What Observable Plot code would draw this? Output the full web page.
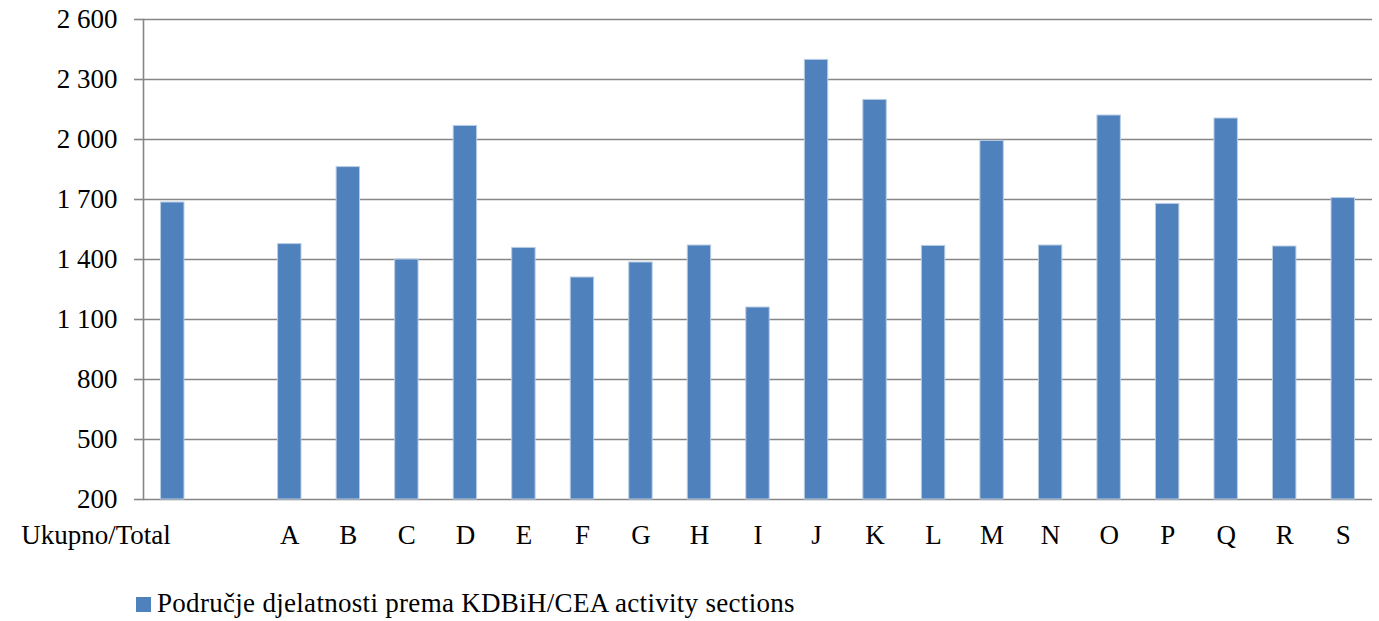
<!DOCTYPE html>
<html>
<head>
<meta charset="utf-8">
<script src="https://cdn.jsdelivr.net/npm/d3@7"></script>
<script src="https://cdn.jsdelivr.net/npm/@observablehq/plot@0.6"></script>
<style>
  body { margin: 0; background: #fff; font-family: "Liberation Serif", serif; }
  #legend { position: relative; height: 61px; }
  #legend .sw { position: absolute; left: 136px; top: 37px; width: 15px; height: 15px; background: #4F81BD; }
  #legend .tx { position: absolute; left: 157px; top: 28px; font-size: 27px; letter-spacing: 0.3px; line-height: 30px; color: #000; white-space: nowrap; }
</style>
</head>
<body>
<div id="chart"></div>
<div id="legend"><span class="sw"></span><span class="tx">Područje djelatnosti prema KDBiH/CEA activity sections</span></div>
<script>
const categories = ["Ukupno/Total", "", "A", "B", "C", "D", "E", "F", "G", "H", "I", "J", "K", "L", "M", "N", "O", "P", "Q", "R", "S"];
const barCategories = ["Ukupno/Total", "A", "B", "C", "D", "E", "F", "G", "H", "I", "J", "K", "L", "M", "N", "O", "P", "Q", "R", "S"];
const values = [1685, 1477, 1862, 1400, 2068, 1458, 1310, 1385, 1470, 1160, 2398, 2198, 1468, 1993, 1470, 2120, 1678, 2105, 1465, 1707];
const yTicks = [200, 500, 800, 1100, 1400, 1700, 2000, 2300, 2600];
const legendLabel = "Područje djelatnosti prema KDBiH/CEA activity sections";

const data = barCategories.map((c, i) => ({cat: c, v: values[i]}));
const fmt = d => d3.format(",")(d).replace(/,/g, "\u00a0");

const chart = Plot.plot({
  width: 1379,
  height: 560,
  marginTop: 19,
  marginBottom: 61,
  marginLeft: 143,
  marginRight: 7,
  style: {fontFamily: "Liberation Serif, serif", fontSize: "27px", color: "#000", background: "#fff"},
  x: {domain: categories, paddingInner: 0.6, paddingOuter: 0.3, round: false, axis: null, label: null},
  y: {domain: [200, 2600], axis: null, label: null},
  marks: [
    Plot.ruleY(yTicks, {stroke: "#868686", strokeWidth: 1.6}),
    Plot.frame({anchor: "left", stroke: "#868686", strokeWidth: 1.6}),
    Plot.barY(data, {x: "cat", y1: 200, y2: "v", fill: "#4F81BD", stroke: "#B9CDE5", strokeWidth: 1}),
    Plot.axisY({ticks: yTicks, tickFormat: fmt, tickSize: 9, tickPadding: 17, stroke: "#868686", strokeWidth: 1.6, fontSize: 27, fill: "#000", label: null}),
    Plot.axisX({ticks: categories.filter(c => c !== "" && c !== "Ukupno/Total"), tickSize: 0, tickPadding: 25, fontSize: 27, fill: "#000", label: null}),
    Plot.axisX({ticks: ["Ukupno/Total"], tickSize: 0, tickPadding: 25, fontSize: 27, fill: "#000", textAnchor: "end", dx: -2, label: null})
  ]
});
document.getElementById("chart").appendChild(chart);
</script>
</body>
</html>
